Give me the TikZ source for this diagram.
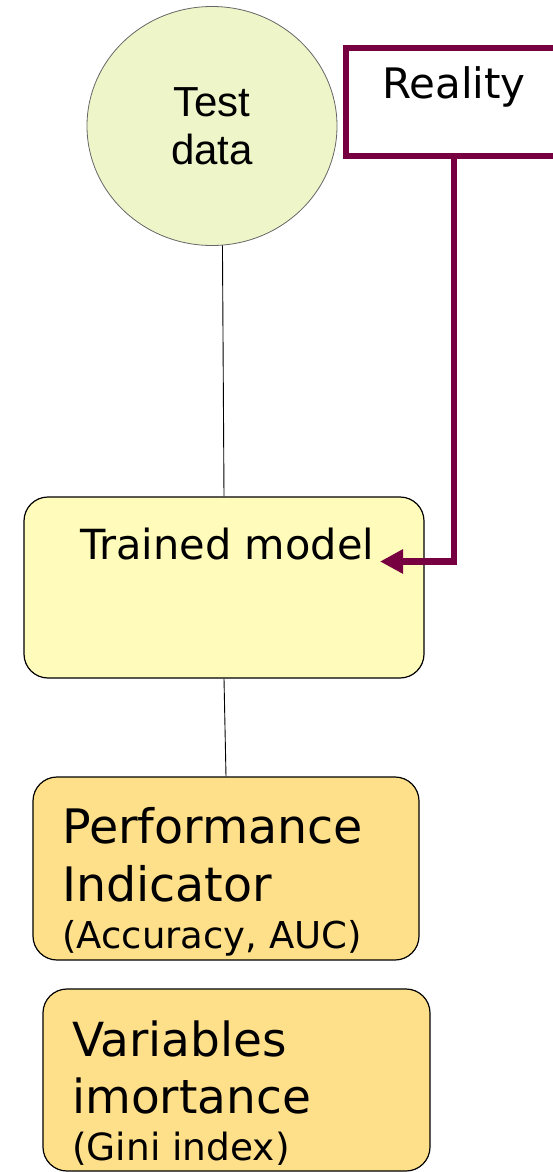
\documentclass[tikz,border=0pt]{standalone}
\usepackage{fontspec}
\usetikzlibrary{shapes.geometric,arrows.meta}
\newfontfamily\verdanalike{DejaVu Sans}
\newfontfamily\arialike{Liberation Sans}
\definecolor{wine}{RGB}{118,0,64}
\definecolor{datagreen}{RGB}{238,246,201}
\definecolor{modelyellow}{RGB}{255,251,186}
\definecolor{resultorange}{RGB}{255,224,138}
\tikzset{
  databubble/.style={ellipse, draw=black!60, line width=0.8pt, fill=datagreen, inner sep=0pt},
  roundbox/.style={rectangle, rounded corners=24pt, draw=black, line width=1.2pt, inner sep=0pt},
  framebox/.style={rectangle, draw=wine, line width=5.5pt, fill=white, inner sep=0pt},
  txt/.style={inner sep=0pt, anchor=base west},
  link/.style={draw=black, line width=0.9pt},
  feedback/.style={draw=wine, line width=6.5pt, -{Triangle[length=23pt 0, width=23pt 0]}},
}
\newcommand{\boxfont}[1]{\verdanalike\fontsize{#1}{#1}\selectfont}
\begin{document}
\begin{tikzpicture}[x=1pt,y=-1pt]
\useasboundingbox (0,0) rectangle (553,1172);
\clip (0,0) rectangle (553,1172);

% stages of the evaluation
\node[databubble, minimum width=250pt, minimum height=239pt,
      font=\arialike\fontsize{42}{48}\selectfont, align=center] (test) at (212,126) {Test\\data};
\node[roundbox, fill=modelyellow, minimum width=400pt, minimum height=181pt] (trained) at (224,587.5) {};
\node[roundbox, fill=resultorange, minimum width=386pt, minimum height=183pt] (perf) at (226,868.5) {};
\node[roundbox, fill=resultorange, minimum width=387pt, minimum height=182pt] (vars) at (236.5,1080) {};

% connectors between the stages
\draw[link] (test.-85) -- (trained.north);
\draw[link] (trained.south) -- (perf.north);

% ground truth fed back into the model
\coordinate (arrowtip) at (380,561.5);
\node[framebox, minimum width=216pt, minimum height=108pt] (reality) at (454,102) {};
\draw[feedback] (reality.south) |- (arrowtip);

% texts
\node[txt, font=\boxfont{42}] (reality-text) at (382,98) {Reality};
\node[txt, font=\boxfont{41.5}] (trained-text) at (80,559) {Trained model};
\node[txt, font=\boxfont{47.5}] (perf-t1) at (62,843) {Performance};
\node[txt, font=\boxfont{47.5}] (perf-t2) at (62,901) {Indicator};
\node[txt, font=\boxfont{37}] (perf-t3) at (62,948) {(Accuracy, AUC)};
\node[txt, font=\boxfont{47}] (vars-t1) at (72,1056) {Variables};
\node[txt, font=\boxfont{47}] (vars-t2) at (72,1113) {imortance};
\node[txt, font=\boxfont{37.5}] (vars-t3) at (72,1160) {(Gini index)};
\end{tikzpicture}
\end{document}
